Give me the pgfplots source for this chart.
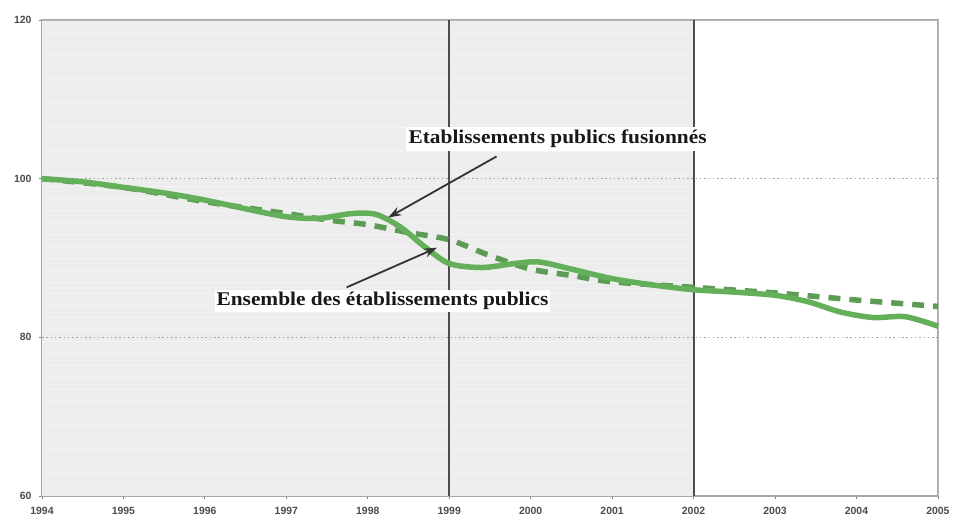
\documentclass[border=0pt]{standalone}
\usepackage{fontspec}
\setmainfont{Liberation Serif}
\newfontfamily\ticksf{Liberation Sans}
\newfontfamily\annfont[FakeStretch=1.1]{Liberation Serif}
\usepackage{pgfplots}
\pgfplotsset{compat=1.18}
\usetikzlibrary{arrows.meta}
\definecolor{lgreen}{RGB}{100,176,90}
\definecolor{dgreen}{RGB}{92,156,84}
\definecolor{bggray}{RGB}{237,237,237}
\begin{document}
\begin{tikzpicture}
\begin{axis}[
  scale only axis, width=896bp, height=476bp,
  at={(0,0)}, anchor=south west,
  xmin=1994, xmax=2005, ymin=60, ymax=120,
  xtick={1994,...,2005}, ytick={60,80,100,120},
  /pgf/number format/1000 sep={},
  /pgf/number format/assume math mode=true,
  tick label style={font=\ticksf\bfseries\fontsize{10.5}{12}\selectfont, text=black!70},
  xtick pos=bottom, ytick pos=left,
  tick align=outside, major tick length=3bp,
  tick style={gray, line width=0.8pt},
  axis line style={draw=gray!70, line width=1.2pt},
  xticklabel style={yshift=-5bp},
  yticklabel style={xshift=-4bp},
  clip=false,
]
% background
\fill[bggray] (axis cs:1994,60) rectangle (axis cs:2002,120);
\pgfplotsinvokeforeach{61.5,63,...,119}{
  \draw[white, line width=0.5pt, opacity=0.35] (axis cs:1994,#1) -- (axis cs:2002,#1);
}
\draw[gray!55, line width=1pt] (axis cs:1994,120) -- (axis cs:2005,120) -- (axis cs:2005,60);
\draw[gray!70, line width=1.3pt, dash pattern=on 1.5bp off 2.8bp] (axis cs:1994,100) -- (axis cs:2005,100);
\draw[gray!70, line width=1.3pt, dash pattern=on 1.5bp off 2.8bp] (axis cs:1994,80) -- (axis cs:2005,80);
\draw[black!70, line width=2bp] (axis cs:1999,60) -- (axis cs:1999,120);
\draw[black!70, line width=2bp] (axis cs:2002,60) -- (axis cs:2002,120);
% dashed: ensemble
\addplot[dgreen, line width=5.5bp, dash pattern=on 12bp off 9bp, smooth, tension=0.5] coordinates {
(1994,100) (1995,98.9) (1996,97.1) (1997,95.6) (1997.5,94.8) (1998,94.2) (1998.5,93.2)
(1999,92.3) (1999.5,90.3) (2000,88.6) (2000.5,87.8) (2001,87.0) (2002,86.3)
(2003,85.6) (2004,84.7) (2005,83.9)};
% solid: fusionnes
\addplot[lgreen, line width=5.5bp, smooth, tension=0.5] coordinates {
(1994,100) (1994.5,99.6) (1995,98.9) (1995.5,98.2) (1996,97.3) (1996.5,96.2) (1997,95.2)
(1997.4,95.0) (1997.8,95.6) (1998.1,95.5) (1998.4,93.9) (1998.7,91.4) (1999,89.3)
(1999.4,88.8) (1999.8,89.3) (2000.1,89.5) (2000.5,88.6) (2001,87.4) (2001.5,86.6)
(2002,86.0) (2002.5,85.7) (2003,85.3) (2003.4,84.5) (2003.8,83.2) (2004.2,82.5)
(2004.6,82.6) (2005,81.4)};
% annotations
\node[fill=white, inner sep=3bp, text=black!90, font=\annfont\bfseries\fontsize{19.5}{22}\selectfont] at (axis cs:2000.33,105.0) {Etablissements publics fusionnés};
\node[fill=white, inner sep=2bp, text=black!90, font=\annfont\bfseries\fontsize{19.5}{22}\selectfont] at (axis cs:1998.18,84.6) {Ensemble des établissements publics};
\draw[black!80, line width=1.8bp, -{Stealth[length=13bp,width=9bp]}] (axis cs:1999.58,102.8) -- (axis cs:1998.25,95.1);
\draw[black!80, line width=1.8bp, -{Stealth[length=13bp,width=9bp]}] (axis cs:1997.74,86.3) -- (axis cs:1998.85,91.3);
\end{axis}
\pgfresetboundingbox
\path (-42bp,-25bp) rectangle (913bp,496bp);
\end{tikzpicture}
\end{document}
